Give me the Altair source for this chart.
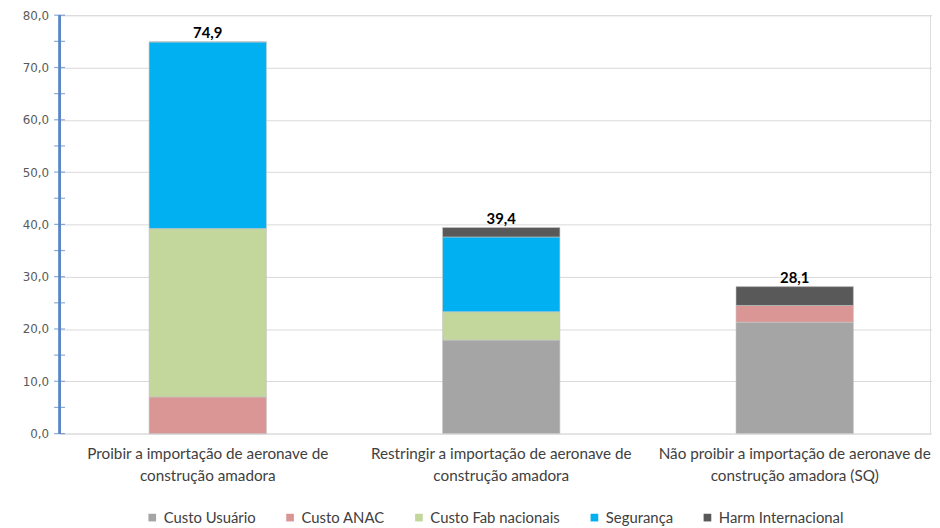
import altair as alt
import pandas as pd

categories = [
    "Proibir a importação de aeronave de\nconstrução amadora",
    "Restringir a importação de aeronave de\nconstrução amadora",
    "Não proibir a importação de aeronave de\nconstrução amadora (SQ)",
]
series = ["Custo Usuário", "Custo ANAC", "Custo Fab nacionais", "Segurança", "Harm Internacional"]
colors = ["#a5a5a5", "#d99694", "#c3d69b", "#00b0f0", "#595959"]

custo_usuario = [0.0, 17.9, 21.3]
custo_anac = [7.0, 0.0, 3.2]
custo_fab = [32.2, 5.4, 0.0]
seguranca = [35.7, 14.3, 0.0]
harm_internacional = [0.0, 1.8, 3.6]

values = [custo_usuario, custo_anac, custo_fab, seguranca, harm_internacional]
rows = []
for si, (s, vals) in enumerate(zip(series, values)):
    for c, v in zip(categories, vals):
        rows.append({"categoria": c, "serie": s, "valor": v, "ordem": si})
df = pd.DataFrame(rows)

ticks_df = pd.DataFrame({"t": [i * 5 for i in range(17)]})

FONT = "Lato"
W = 878
H = 422

x_scale = alt.Scale(paddingInner=0.6, paddingOuter=0.305, range=[0, 891])

x_enc = alt.X(
    "categoria:N",
    sort=categories,
    title=None,
    scale=x_scale,
    axis=alt.Axis(
        labelExpr="split(datum.label, '\\n')",
        labelAngle=0,
        labelFont=FONT,
        labelFontSize=15.4,
        labelColor="#404040",
        labelLineHeight=22,
        labelPadding=13,
        ticks=False,
        domain=False,
        labelLimit=400,
    ),
)

y_scale = alt.Scale(domain=[0, 80], nice=False)

bars = alt.Chart(df).mark_bar(stroke="#c8c8c8", strokeWidth=0.6).encode(
    x=x_enc,
    y=alt.Y(
        "valor:Q",
        stack="zero",
        scale=y_scale,
        title=None,
        axis=alt.Axis(
            values=[i * 10 for i in range(9)],
            labelExpr="replace(format(datum.value, '.1f'), '.', ',')",
            labelFont="DejaVu Sans",
            labelFontSize=12,
            labelColor="#595959",
            labelPadding=11,
            ticks=False,
            domain=False,
            grid=True,
            gridColor="#d9d9d9",
            gridWidth=1,
        ),
    ),
    color=alt.Color(
        "serie:N",
        sort=series,
        scale=alt.Scale(domain=series, range=colors),
        legend=alt.Legend(
            title=None,
            orient="none",
            direction="horizontal",
            legendX=86,
            legendY=499,
            symbolType="square",
            symbolSize=60,
            symbolStrokeWidth=0,
            labelFont=FONT,
            labelFontSize=15,
            labelColor="#404040",
            columnPadding=27,
            labelOffset=4,
        ),
    ),
    order=alt.Order("ordem:Q", sort="ascending"),
)

totals = alt.Chart(df).transform_aggregate(
    total="sum(valor)", groupby=["categoria"]
).transform_calculate(
    rotulo="replace(format(datum.total, '.1f'), '.', ',')"
).mark_text(
    font=FONT, fontSize=15, fontWeight="bold", color="#000000", baseline="bottom", dy=-1
).encode(
    x=alt.X("categoria:N", sort=categories, scale=x_scale),
    y=alt.Y("total:Q", scale=y_scale),
    text="rotulo:N",
)

axis_line = alt.Chart(ticks_df).mark_rule(color="#5b86c5", strokeWidth=1.3).encode(
    x=alt.value(0),
    y=alt.value(0),
    y2=alt.value(H),
)

axis_ticks = alt.Chart(ticks_df).mark_tick(
    color="#5b86c5", orient="horizontal", size=11, thickness=1.2
).encode(
    x=alt.value(0),
    y=alt.Y("t:Q", scale=y_scale),
)

chart = alt.layer(bars, totals, axis_line, axis_ticks).properties(
    width=W,
    height=H,
    padding={"left": 52, "top": 5, "right": 2, "bottom": 96},
    autosize=alt.AutoSizeParams(type="none"),
).configure_view(stroke=None).configure(background="#ffffff")

chart.save("out.html", embed_options={"renderer": "svg", "actions": False})
